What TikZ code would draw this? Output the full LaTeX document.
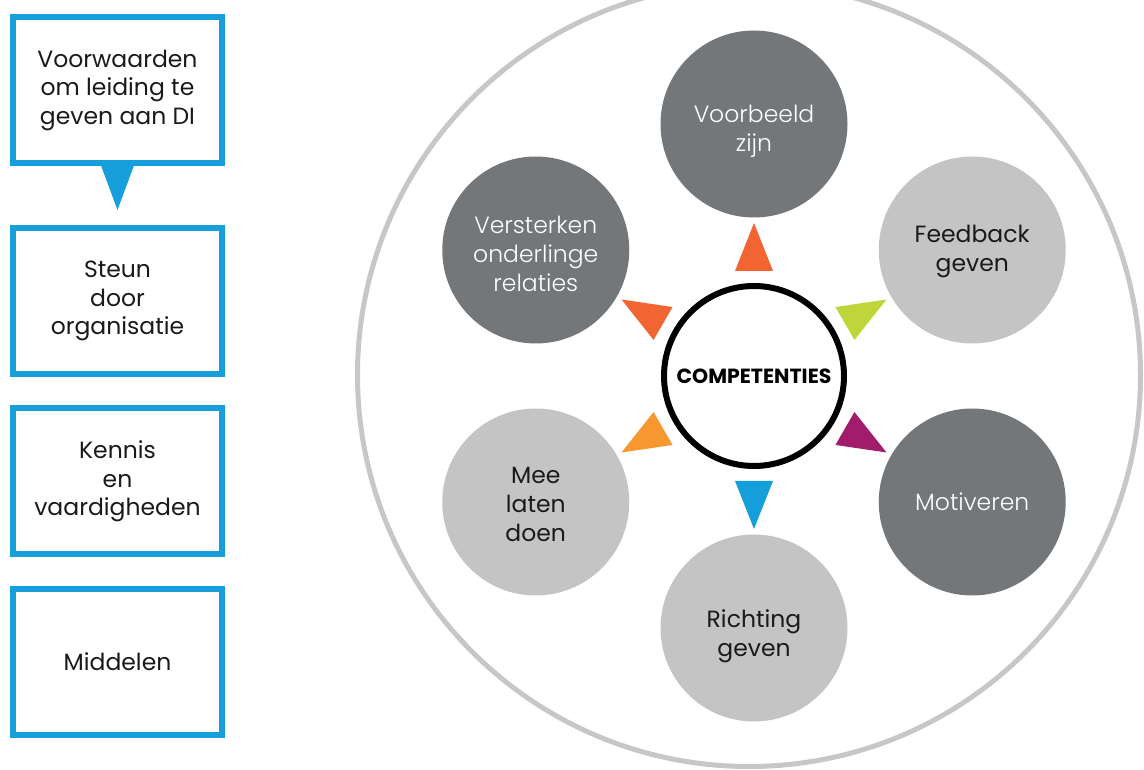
\documentclass[tikz,border=0pt]{standalone}
\usepackage{fontspec}
\setmainfont{Poppins}
\newfontfamily\thinfont{Poppins}[UprightFont=* Light]
\usetikzlibrary{calc}

\definecolor{boxblue}{HTML}{169FDA}
\definecolor{discdarkcol}{HTML}{74777A}
\definecolor{disclightcol}{HTML}{C3C4C3}
\definecolor{ringgray}{HTML}{C6C7C7}
\definecolor{triorange}{HTML}{F26532}
\definecolor{trilime}{HTML}{BED63A}
\definecolor{tripurple}{HTML}{A21C6C}
\definecolor{triblue}{HTML}{159FDA}
\definecolor{trilightorange}{HTML}{F7972F}
\definecolor{textblack}{HTML}{1A1A1A}

\begin{document}
\begin{tikzpicture}[x=1pt,y=1pt,
  stepbox/.style={draw=boxblue, line width=6pt, fill=white,
    minimum width=209pt, minimum height=146pt, align=center,
    inner sep=0pt, text=textblack, font=\fontsize{23.5}{28.5}\selectfont},
  disc/.style={circle, minimum size=187pt, inner sep=0pt},
  discdark/.style={disc, fill=discdarkcol},
  disclight/.style={disc, fill=disclightcol},
  disctext/.style={align=center, inner sep=0pt, text=textblack,
    font=\fontsize{23.5}{29}\selectfont},
  disctextwhite/.style={disctext, text=white,
    font=\thinfont\fontsize{23.5}{29}\selectfont},
  core/.style={circle, draw=black, line width=6pt, fill=white,
    minimum size=180pt, inner sep=0pt,
    font=\bfseries\fontsize{20.5}{24}\selectfont}
]
\useasboundingbox (0,0) rectangle (1144,769);

% left column of blue boxes
\node[stepbox] (box1) at (117.5,679) {Voorwaarden\\om leiding te\\geven aan DI};
\node[stepbox] (box2) at (117.5,468) {Steun\\door\\organisatie};
\node[stepbox] (box3) at (117.5,287.5) {Kennis\\en\\vaardigheden};
\node[stepbox] (box4) at (117.5,107) {Middelen};
\fill[boxblue] ($(box1.south)+(-16.5,0.5)$) -- ($(box1.south)+(16.5,0.5)$)
  -- ($(box1.south)+(0,-44)$) -- cycle;

% outer ring
\draw[ringgray, line width=5pt] (749,394) circle (391.5);

% central competence circle
\node[core] (comp) at (754,393) {COMPETENTIES};

% six surrounding discs
\node[discdark]  (voorbeeld)  at ($(comp.center)+(90:252)$)   {};
\node[disclight] (feedback)   at ($(comp.center)+(30:252)$)   {};
\node[discdark]  (motiveren)  at ($(comp.center)+(-30:252)$)  {};
\node[disclight] (richting)   at ($(comp.center)+(-90:252)$)  {};
\node[disclight] (meelaten)   at ($(comp.center)+(-150:252)$) {};
\node[discdark]  (versterken) at ($(comp.center)+(150:252)$)  {};

% disc captions
\node[disctextwhite] (voorbeeld-t)  at ([yshift=-7]voorbeeld.center)  {Voorbeeld\\zijn};
\node[disctext]      (feedback-t)   at ([yshift=-1]feedback.center)   {Feedback\\geven};
\node[disctextwhite] (motiveren-t)  at (motiveren.center)             {Motiveren};
\node[disctext]      (richting-t)   at ([yshift=-8]richting.center)   {Richting\\geven};
\node[disctext]      (meelaten-t)   at ([yshift=-2]meelaten.center)   {Mee\\laten\\doen};
\node[disctextwhite] (versterken-t) at ([yshift=-4]versterken.center) {Versterken\\onderlinge\\relaties};

% coloured pointers from the centre towards each disc
\foreach \ang/\col in {90/triorange, 30/trilime, -30/tripurple,
                       -90/triblue, -150/trilightorange, 150/triorange}
  \fill[\col] ($(comp.center)+(\ang:153)$)
    -- ($(comp.center)+(\ang:105)+(\ang+90:19)$)
    -- ($(comp.center)+(\ang:105)+(\ang-90:19)$) -- cycle;
\end{tikzpicture}
\end{document}
